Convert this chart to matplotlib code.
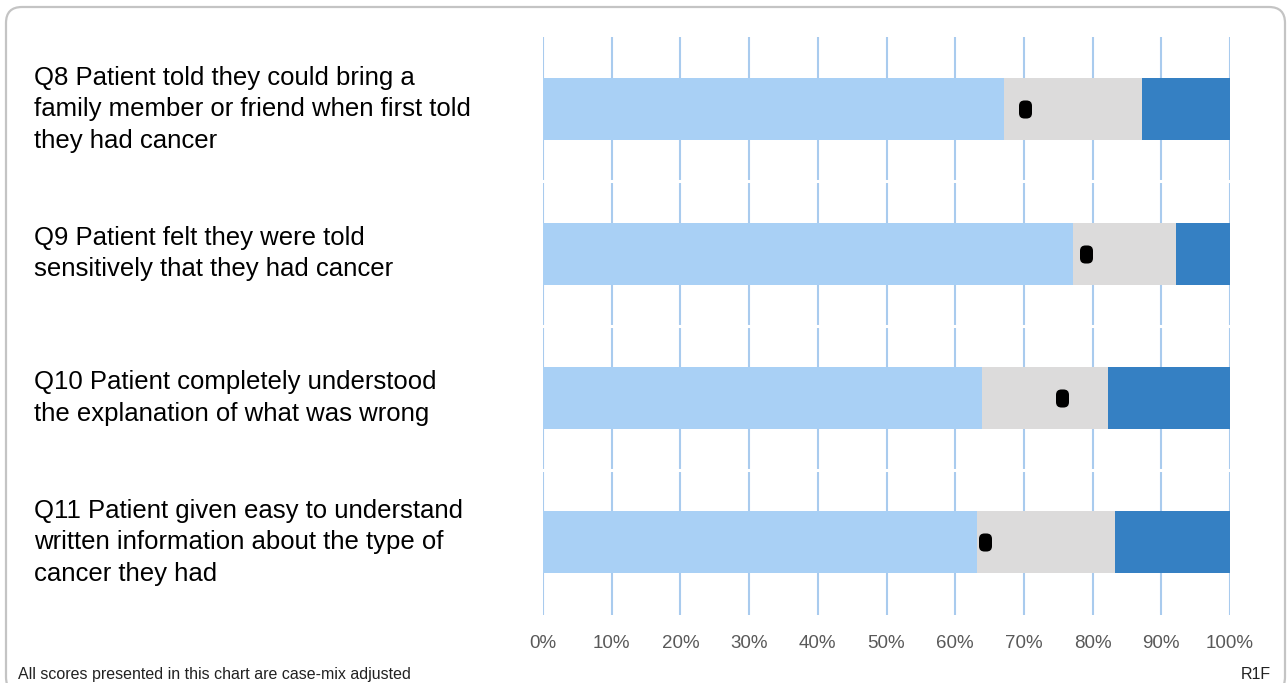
import matplotlib
matplotlib.use("Agg")
import matplotlib.pyplot as plt
import matplotlib.transforms as mtransforms
from matplotlib.markers import MarkerStyle
from matplotlib.patches import FancyBboxPatch

plt.rcParams['font.family'] = ['Liberation Sans', 'DejaVu Sans']

questions = [
    "Q8 Patient told they could bring a\nfamily member or friend when first told\nthey had cancer",
    "Q9 Patient felt they were told\nsensitively that they had cancer",
    "Q10 Patient completely understood\nthe explanation of what was wrong",
    "Q11 Patient given easy to understand\nwritten information about the type of\ncancer they had",
]
# percentages (case-mix adjusted)
lower_band = [67.1, 77.1, 63.9, 63.2]
middle_band = [20.1, 15.0, 18.4, 20.1]
upper_band = [12.8, 7.9, 17.7, 16.7]
trust_score = [70.1, 79.0, 75.6, 64.4]
tick_values = list(range(0, 101, 10))

c_light = "#a9d0f5"
c_grey = "#dcdbdb"
c_dark = "#3580c3"
c_grid = "#a9cbee"

fig = plt.figure(figsize=(12.87, 6.83), dpi=100)
ax = fig.add_axes([543 / 1287, 1 - 614.5 / 683, (1230 - 543) / 1287, (614.5 - 37) / 683])

ypos = list(range(len(questions)))
h = 0.43
ax.barh(ypos, lower_band, height=h, color=c_light, zorder=3)
ax.barh(ypos, middle_band, left=lower_band, height=h, color=c_grey, zorder=3)
left_up = [a + b for a, b in zip(lower_band, middle_band)]
ax.barh(ypos, upper_band, left=left_up, height=h, color=c_dark, zorder=3)

# rounded black marker for the trust score
box = FancyBboxPatch((-0.36, -0.5), 0.72, 1.0, boxstyle="round,pad=0,rounding_size=0.3")
mk = MarkerStyle(box.get_path())
ax.plot(trust_score, ypos, linestyle="none", marker=mk, markersize=13,
        color="black", markeredgewidth=0, zorder=5)

for v in tick_values:
    ax.axvline(v, color=c_grid, lw=1.5, zorder=1)
for b in [0.5, 1.5, 2.5]:
    ax.axhline(b, color="white", lw=2.2, zorder=2)

ax.set_xlim(0, 100)
ax.set_ylim(len(questions) - 0.5, -0.5)
ax.set_yticks([])
ax.set_xticks(tick_values)
ax.set_xticklabels([f"{v}%" for v in tick_values], color="#595959", fontsize=13.5)
ax.tick_params(axis="x", length=0, pad=15)
for s in ax.spines.values():
    s.set_visible(False)

trans = mtransforms.blended_transform_factory(fig.transFigure, ax.transData)
for y, q in zip(ypos, questions):
    ax.text(34 / 1287, y, q, transform=trans, ha="left", va="center",
            fontsize=18.5, linespacing=1.39, color="black")

fig.text(18 / 1287, 1 - 679 / 683, "All scores presented in this chart are case-mix adjusted",
         fontsize=11.5, ha="left", va="baseline", color="#222222")
fig.text(1271 / 1287, 1 - 679 / 683, "R1F", fontsize=11.5, ha="right", va="baseline",
         color="#222222")

frame = FancyBboxPatch((0.06, -0.1), 12.79, 6.86, boxstyle="round,pad=0,rounding_size=0.16",
                       transform=fig.dpi_scale_trans, facecolor="none",
                       edgecolor="#c4c4c4", lw=1.6)
fig.patches.append(frame)

fig.savefig("out.png", dpi=100)
